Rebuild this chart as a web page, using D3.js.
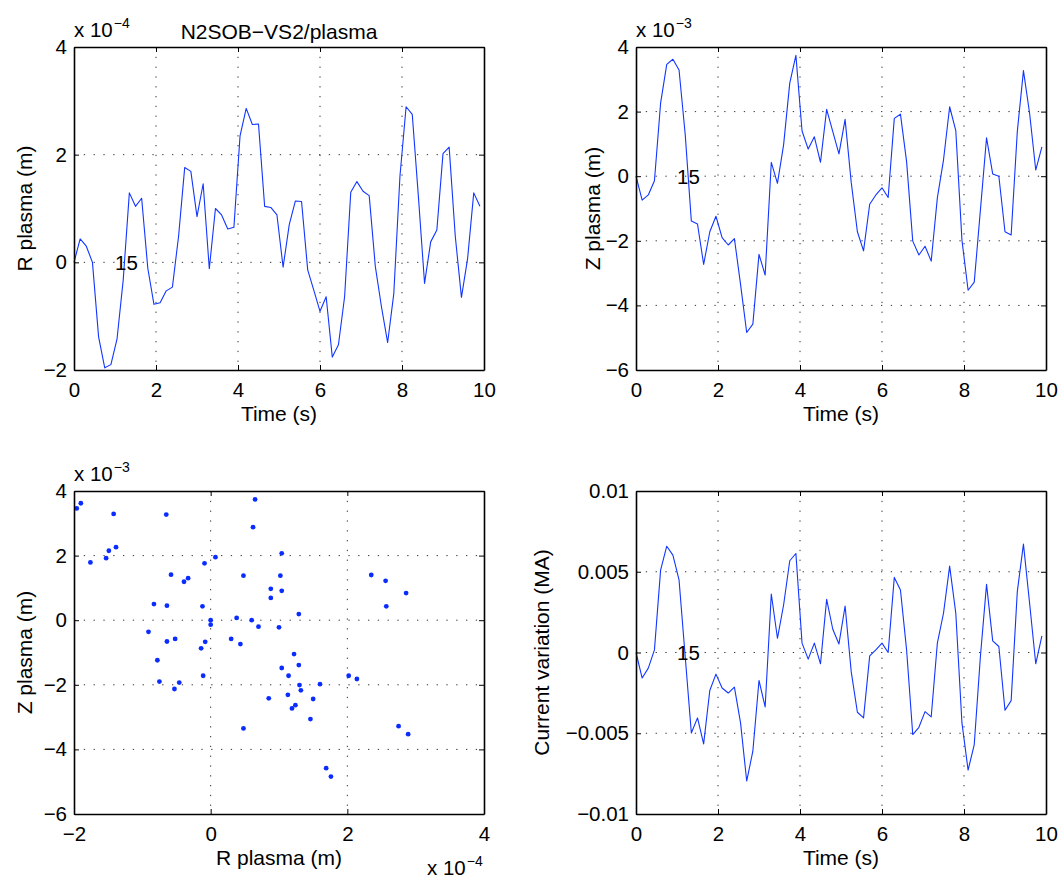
<!DOCTYPE html>
<html><head><meta charset="utf-8">
<script src="https://cdn.jsdelivr.net/npm/d3@7"></script>
<style>
body{margin:0;background:#fff}
svg{display:block;background:#fff}
text{font-family:"Liberation Sans",Arial,Helvetica,sans-serif;fill:#000}
</style>
</head><body>
<svg id="c" width="1062" height="884"></svg>
<script>
// ---------- data ----------
const time = [0,0.15,0.3,0.45,0.6,0.75,0.9,1.05,1.2,1.35,1.5,1.65,1.8,1.95,2.1,2.25,2.4,2.55,2.7,2.85,
  3.0,3.15,3.3,3.45,3.6,3.75,3.9,4.05,4.2,4.35,4.5,4.65,4.8,4.95,5.1,5.25,5.4,5.55,5.7,5.85,
  6.0,6.15,6.3,6.45,6.6,6.75,6.9,7.05,7.2,7.35,7.5,7.65,7.8,7.95,8.1,8.25,8.4,8.55,8.7,8.85,
  9.0,9.15,9.3,9.45,9.6,9.75,9.9];
// R plasma (m), in units of 1e-4
const rPlasma = [0,0.435,0.30,0.0,-1.385,-1.96,-1.90,-1.42,-0.33,1.29,
  1.04,1.19,-0.11,-0.78,-0.75,-0.53,-0.46,0.48,1.76,1.69,
  0.85,1.46,-0.12,1.0,0.88,0.62,0.65,2.35,2.86,2.56,
  2.57,1.04,1.02,0.88,-0.09,0.70,1.14,1.13,-0.14,-0.52,
  -0.91,-0.64,-1.76,-1.53,-0.64,1.30,1.50,1.32,1.24,-0.08,
  -0.83,-1.49,-0.58,1.60,2.89,2.75,1.22,-0.39,0.38,0.60,
  2.02,2.14,0.48,-0.65,0.07,1.29,1.04];
// Z plasma (m), in units of 1e-3
const zPlasma = [0,-0.74,-0.58,-0.14,2.26,3.46,3.62,3.29,1.3,-1.39,
  -1.48,-2.73,-1.72,-1.24,-1.90,-2.13,-1.93,-3.35,-4.84,-4.58,
  -2.42,-3.06,0.43,-0.22,0.97,2.88,3.74,1.40,0.84,1.22,
  0.43,2.07,1.38,0.69,1.76,-0.2,-1.72,-2.31,-0.87,-0.58,
  -0.36,-0.66,1.79,1.92,0.45,-2.01,-2.44,-2.17,-2.63,-0.67,
  0.5,2.15,1.41,-1.98,-3.53,-3.28,-1.05,1.19,0.07,0.0,
  -1.72,-1.82,1.38,3.27,1.95,0.19,0.91];
// Current variation (MA)
const currentVar = [0,-0.00158,-0.00097,0.00016,0.00510,0.00658,0.00603,0.00449,-0.00025,-0.00498,
  -0.00405,-0.00566,-0.00235,-0.00134,-0.00220,-0.00251,-0.00214,-0.00436,-0.00796,-0.00611,
  -0.00173,-0.00337,0.00362,0.00088,0.00294,0.00568,0.00613,0.00058,-0.00041,0.00058,
  -0.00070,0.00329,0.00144,0.00053,0.00288,-0.00120,-0.00370,-0.00405,-0.00021,0.00016,
  0.00058,0.0,0.00465,0.00387,0.00016,-0.00508,-0.00463,-0.00366,-0.00399,0.00058,
  0.00243,0.00535,0.00243,-0.00436,-0.00728,-0.00570,-0.00025,0.00422,0.00072,0.00037,
  -0.00358,-0.00298,0.00377,0.00671,0.00305,-0.00070,0.00103];

const timeTicks = [0,2,4,6,8,10];
const rTicks = [-2,0,2,4];
const zTicks = [-6,-4,-2,0,2,4];
const currentTicks = [-0.01,-0.005,0,0.005,0.01];
const currentTickLabels = ["\u22120.01","\u22120.005","0","0.005","0.01"];
const figTitle = "N2SOB\u2212VS2/plasma";
const annotation = "15";

// ---------- drawing ----------
const svg = d3.select("#c");
const W = 410, H = 323;
const TICK_FONT = 20.5;
const FONT = 21;
const minusFmt = d => String(d).replace("-", "\u2212");

function panel(cfg) {
  const g = svg.append("g").attr("transform", `translate(${cfg.left},${cfg.top})`);
  const x = d3.scaleLinear().domain(cfg.xDomain).range([0, W]);
  const y = d3.scaleLinear().domain(cfg.yDomain).range([H, 0]);

  // grid
  const grid = g.append("g").attr("stroke", "#333").attr("stroke-width", 1)
    .attr("stroke-dasharray", "1.3,8.5");
  grid.selectAll("line.v").data(cfg.xTicks.filter(t => t > cfg.xDomain[0] && t < cfg.xDomain[1]))
    .join("line").attr("x1", d => x(d)).attr("x2", d => x(d)).attr("y1", 0).attr("y2", H);
  grid.selectAll("line.h").data(cfg.yTicks.filter(t => t > cfg.yDomain[0] && t < cfg.yDomain[1]))
    .join("line").attr("class","h").attr("y1", d => y(d)).attr("y2", d => y(d)).attr("x1", 0).attr("x2", W);

  // data
  if (cfg.type === "line") {
    const pts = cfg.xs.map((t, i) => [t, cfg.ys[i]]);
    g.append("path").datum(pts)
      .attr("fill", "none").attr("stroke", "#1236ff").attr("stroke-width", 1.1)
      .attr("stroke-linejoin", "round")
      .attr("d", d3.line().x(d => x(d[0])).y(d => y(d[1])));
  } else {
    g.append("g").selectAll("circle").data(cfg.xs.map((v, i) => [v, cfg.ys[i]]))
      .join("circle").attr("cx", d => x(d[0])).attr("cy", d => y(d[1]))
      .attr("r", 2.4).attr("fill", "#0a2cff");
  }

  // axes
  const styleAxis = a => {
    a.attr("font-size", TICK_FONT).attr("font-family", null);
    a.select(".domain").attr("stroke", "#000").attr("stroke-width", 1.6);
    a.selectAll(".tick line").attr("stroke", "#000").attr("stroke-width", 1);
    a.selectAll(".tick text").attr("fill", "#000");
  };
  g.append("g").attr("transform", `translate(0,${H})`)
    .call(d3.axisBottom(x).tickValues(cfg.xTicks).tickSizeInner(-5).tickSizeOuter(0)
      .tickPadding(12).tickFormat(cfg.xFmt || minusFmt)).call(styleAxis);
  g.append("g")
    .call(d3.axisLeft(y).tickValues(cfg.yTicks).tickSizeInner(-5).tickSizeOuter(0)
      .tickPadding(7).tickFormat(cfg.yFmt || minusFmt)).call(styleAxis);
  g.append("g")
    .call(d3.axisTop(x).tickValues(cfg.xTicks).tickSizeInner(-5).tickSizeOuter(0).tickFormat("")).call(styleAxis);
  g.append("g").attr("transform", `translate(${W},0)`)
    .call(d3.axisRight(y).tickValues(cfg.yTicks).tickSizeInner(-5).tickSizeOuter(0).tickFormat("")).call(styleAxis);

  // axis labels
  g.append("text").attr("x", W / 2).attr("y", H + 51).attr("text-anchor", "middle")
    .attr("font-size", FONT).text(cfg.xLabel);
  g.append("text").attr("transform", `translate(${cfg.yLabelX},${H / 2}) rotate(-90)`)
    .attr("text-anchor", "middle").attr("font-size", FONT).text(cfg.yLabel);

  // annotation
  if (cfg.annot) {
    g.append("text").attr("x", x(cfg.annot[0])).attr("y", y(cfg.annot[1])).attr("dy", "0.36em")
      .attr("font-size", TICK_FONT).text(annotation);
  }

  // exponent labels
  if (cfg.yExp) {
    const t = g.append("text").attr("x", 0).attr("y", -10).attr("font-size", TICK_FONT);
    t.append("tspan").text("x 10");
    t.append("tspan").attr("dy", -9).attr("dx", 1).attr("font-size", 14).text(cfg.yExp);
  }
  if (cfg.xExp) {
    const t = g.append("text").attr("x", W - 57).attr("y", H + 61).attr("font-size", TICK_FONT);
    t.append("tspan").text("x 10");
    t.append("tspan").attr("dy", -9).attr("dx", 1).attr("font-size", 14).text(cfg.xExp);
  }
  return g;
}

panel({left: 74, top: 47, type: "line", xs: time, ys: rPlasma,
  xDomain: [0, 10], yDomain: [-2, 4], xTicks: timeTicks, yTicks: rTicks,
  xLabel: "Time (s)", yLabel: "R plasma (m)", yLabelX: -42, yExp: "\u22124", annot: [1, 0]});
panel({left: 636, top: 47, type: "line", xs: time, ys: zPlasma,
  xDomain: [0, 10], yDomain: [-6, 4], xTicks: timeTicks, yTicks: zTicks,
  xLabel: "Time (s)", yLabel: "Z plasma (m)", yLabelX: -36, yExp: "\u22123", annot: [1, 0]});
panel({left: 74, top: 491, type: "scatter", xs: rPlasma, ys: zPlasma,
  xDomain: [-2, 4], yDomain: [-6, 4], xTicks: rTicks, yTicks: zTicks,
  xLabel: "R plasma (m)", yLabel: "Z plasma (m)", yLabelX: -42, yExp: "\u22123", xExp: "\u22124"});
panel({left: 636, top: 491, type: "line", xs: time, ys: currentVar,
  xDomain: [0, 10], yDomain: [-0.01, 0.01], xTicks: timeTicks, yTicks: currentTicks,
  yFmt: (d, i) => currentTickLabels[i],
  xLabel: "Time (s)", yLabel: "Current variation (MA)", yLabelX: -87, annot: [1, 0]});

// title
svg.append("text").attr("x", 74 + W / 2).attr("y", 39).attr("text-anchor", "middle")
  .attr("font-size", FONT).text(figTitle);
</script>
</body></html>
